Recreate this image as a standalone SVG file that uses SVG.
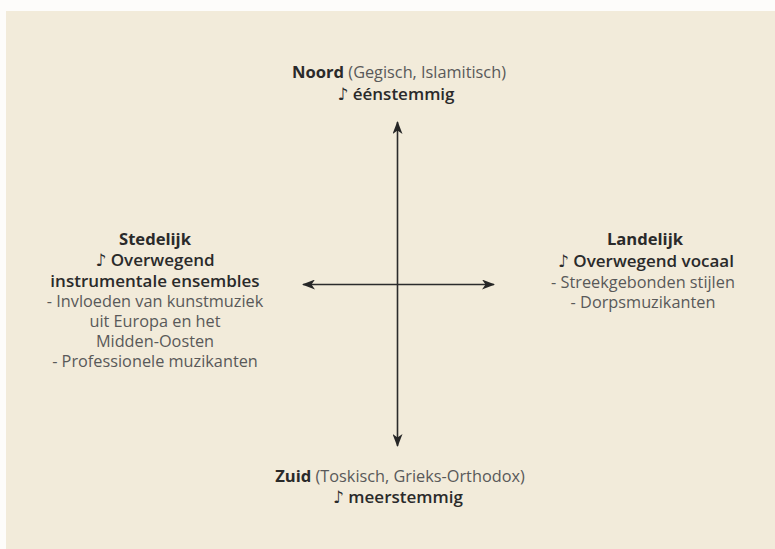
<svg xmlns="http://www.w3.org/2000/svg" width="775" height="549" viewBox="0 0 775 549">
  <style>
    text { font-family: "Open Sans", "DejaVu Sans", sans-serif; text-anchor: middle; }
    .b { font-weight: bold; fill: #2a2a2a; font-size: 16.6px; }
    .bl { font-weight: 600; fill: #2a2a2a; font-size: 17px; }
    .r { font-weight: normal; fill: #595959; font-size: 16.3px; }
    .axis { stroke: #2b2b2b; stroke-width: 1.6; fill: none; }
  </style>
  <defs>
    <marker id="ah" viewBox="0 0 13 10" refX="12" refY="5" markerWidth="13" markerHeight="10" markerUnits="userSpaceOnUse" orient="auto-start-reverse">
      <path d="M0,0 L13,5 L0,10 L3.5,5 Z" fill="#262626"/>
    </marker>
  </defs>
  <rect x="0" y="0" width="775" height="549" fill="#fdfcfa"/>
  <rect x="6" y="11" width="769" height="538" fill="#f2ebda"/>

  <g id="connectors">
    <line class="axis" x1="397.5" y1="122" x2="397.5" y2="446" marker-start="url(#ah)" marker-end="url(#ah)"/>
    <line class="axis" x1="303" y1="284.5" x2="494" y2="284.5" marker-start="url(#ah)" marker-end="url(#ah)"/>
  </g>

  <g id="noord">
    <text x="399" y="78" class="r"><tspan class="b">Noord</tspan> (Gegisch, Islamitisch)</text>
    <text x="396" y="100" class="bl">♪ éénstemmig</text>
  </g>

  <g id="zuid">
    <text x="400" y="482" class="r"><tspan class="b">Zuid</tspan> (Toskisch, Grieks-Orthodox)</text>
    <text x="398" y="503" class="bl">♪ meerstemmig</text>
  </g>

  <g id="stedelijk">
    <text x="155" y="245" class="b">Stedelijk</text>
    <text x="155" y="266" class="bl">♪ Overwegend</text>
    <text x="155" y="287" class="bl">instrumentale ensembles</text>
    <text x="155" y="307" class="r">- Invloeden van kunstmuziek</text>
    <text x="155" y="327" class="r">uit Europa en het</text>
    <text x="155" y="347" class="r">Midden-Oosten</text>
    <text x="155" y="367" class="r">- Professionele muzikanten</text>
  </g>

  <g id="landelijk">
    <text x="645" y="245" class="b">Landelijk</text>
    <text x="646" y="267" class="bl">♪ Overwegend vocaal</text>
    <text x="643" y="288" class="r">- Streekgebonden stijlen</text>
    <text x="643" y="308" class="r">- Dorpsmuzikanten</text>
  </g>
</svg>
